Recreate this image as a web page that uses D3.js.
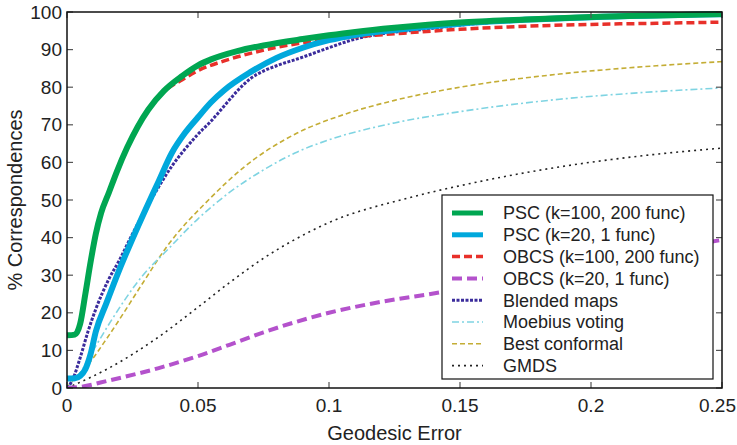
<!DOCTYPE html>
<html>
<head>
<meta charset="utf-8">
<script src="https://cdn.jsdelivr.net/npm/d3@7"></script>
<style>
  body { margin: 0; background: #fff; }
  text { font-family: "Liberation Sans", Arial, sans-serif; fill: #222; }
</style>
</head>
<body>
<div id="chart"></div>
<script>
// series values: [geodesic error, % correspondences]
var pscK100 = [[0,14],[0.003,14.2],[0.005,17],[0.007,25],[0.009,33.5],[0.011,41],[0.013,46.5],[0.016,52],[0.019,57.5],[0.023,64],[0.027,69.5],[0.031,74],[0.037,79],[0.044,83],[0.05,85.8],[0.055,87.4],[0.065,89.6],[0.075,91.1],[0.09,92.8],[0.1,93.8],[0.11,94.7],[0.125,95.8],[0.15,97.2],[0.175,98],[0.2,98.7],[0.225,99.1],[0.25,99.5]]
var pscK20 = [[0,2.5],[0.003,2.6],[0.005,3.2],[0.007,5],[0.009,9],[0.011,15],[0.015,22.5],[0.02,31.5],[0.025,39.7],[0.03,47.5],[0.035,55],[0.04,62.5],[0.045,67.8],[0.05,72],[0.055,76],[0.06,79.2],[0.07,84],[0.08,87.8],[0.09,90.5],[0.1,92.5],[0.11,93.9],[0.125,95.2],[0.15,96.9],[0.2,98.6],[0.25,99.4]]
var obcsK100 = [[0,14],[0.003,14.2],[0.005,17],[0.007,25],[0.009,33.5],[0.011,41],[0.013,46.5],[0.016,52],[0.019,57.5],[0.023,64],[0.027,69.5],[0.031,74],[0.037,78.8],[0.044,82],[0.05,84.4],[0.06,87],[0.07,89],[0.08,90.6],[0.09,91.8],[0.1,92.7],[0.11,93.4],[0.125,94.2],[0.15,95.4],[0.175,96.2],[0.2,96.7],[0.225,97],[0.25,97.3]]
var obcsK20 = [[0,0],[0.005,0.3],[0.016,2],[0.035,5.3],[0.05,8.5],[0.062,11.5],[0.075,14.8],[0.087,17.5],[0.1,20],[0.119,22.8],[0.143,25.5],[0.17,29],[0.2,33],[0.225,36.3],[0.25,39.4]]
var blended = [[0,0],[0.002,2],[0.005,8],[0.008,15],[0.011,21],[0.016,29],[0.02,34],[0.025,41],[0.03,47.5],[0.035,53.5],[0.04,59],[0.045,63.5],[0.05,67.5],[0.055,71],[0.06,75],[0.065,79],[0.07,82.3],[0.075,84.3],[0.08,85.7],[0.09,88],[0.1,90.5],[0.11,92.8],[0.12,94.2],[0.135,95.3],[0.15,96.5],[0.2,98.5],[0.25,99.5]]
var moebius = [[0,0],[0.004,3],[0.01,10],[0.0165,17.5],[0.029,30],[0.038,36.5],[0.05,45],[0.062,52],[0.075,58],[0.087,62.5],[0.1,66],[0.125,70.5],[0.15,73.5],[0.188,76.8],[0.22,78.6],[0.25,79.8]]
var bestConformal = [[0,0],[0.001,1],[0.007,5.3],[0.016,14],[0.029,28],[0.038,37.5],[0.054,50],[0.068,59],[0.087,67.5],[0.106,72.8],[0.125,76.5],[0.15,80],[0.188,83.5],[0.225,85.7],[0.25,86.8]]
var gmds = [[0,0],[0.001,0.3],[0.016,5.3],[0.035,13.6],[0.05,21.5],[0.062,28],[0.075,34.5],[0.087,39.5],[0.1,44],[0.13,50.5],[0.15,53.8],[0.188,58.8],[0.22,61.8],[0.25,63.8]]

var seriesNames = ['PSC (k=100, 200 func)','PSC (k=20, 1 func)','OBCS (k=100, 200 func)','OBCS (k=20, 1 func)','Blended maps','Moebius voting','Best conformal','GMDS']
var xTicks = [0, 0.05, 0.1, 0.15, 0.2, 0.25]
var yTicks = [0,10,20,30,40,50,60,70,80,90,100]

var series = [
  {name: seriesNames[0], values: pscK100, color: '#00a651', width: 6, dash: null},
  {name: seriesNames[1], values: pscK20, color: '#00a8dc', width: 6, dash: null},
  {name: seriesNames[2], values: obcsK100, color: '#e8302a', width: 3.5, dash: '8,4'},
  {name: seriesNames[3], values: obcsK20, color: '#b452cc', width: 4, dash: '10,5'},
  {name: seriesNames[4], values: blended, color: '#3b2c9c', width: 3, dash: '3,1.5'},
  {name: seriesNames[5], values: moebius, color: '#7fd4e2', width: 1.6, dash: '7,3,2,3'},
  {name: seriesNames[6], values: bestConformal, color: '#c4ad35', width: 1.6, dash: '5,3'},
  {name: seriesNames[7], values: gmds, color: '#222', width: 1.6, dash: '2,4'}
]

var W = 737, H = 445
var margin = {top: 12, right: 15, bottom: 57, left: 67}
var width = W - margin.left - margin.right
var height = H - margin.top - margin.bottom

var svg = d3.select('#chart').append('svg')
  .attr('width', W).attr('height', H)
var g = svg.append('g')
  .attr('transform', 'translate(' + margin.left + ',' + margin.top + ')')

var x = d3.scaleLinear().domain([0, 0.25]).range([0, width])
var y = d3.scaleLinear().domain([0, 100]).range([height, 0])

var line = d3.line()
  .curve(d3.curveMonotoneX)
  .x(function(d){ return x(d[0]) })
  .y(function(d){ return y(d[1]) })

// lines, drawn last-to-first so the PSC curves sit on top
g.append('defs').append('clipPath').attr('id', 'clip')
  .append('rect').attr('width', width).attr('height', height + 4).attr('y', -4)

g.append('g').attr('clip-path', 'url(#clip)')
  .selectAll('path')
  .data(series.slice().reverse())
  .enter().append('path')
  .attr('fill', 'none')
  .attr('stroke', function(d){ return d.color })
  .attr('stroke-width', function(d){ return d.width })
  .attr('stroke-dasharray', function(d){ return d.dash })
  .attr('stroke-linejoin', 'round')
  .attr('d', function(d){ return line(d.values) })

// inward ticks on all four sides
var tickLen = 6
var tk = g.append('g').attr('stroke', '#555').attr('stroke-width', 1.2)
xTicks.forEach(function(t){
  tk.append('line').attr('x1', x(t)).attr('x2', x(t)).attr('y1', height).attr('y2', height - tickLen)
  tk.append('line').attr('x1', x(t)).attr('x2', x(t)).attr('y1', 0).attr('y2', tickLen)
})
yTicks.forEach(function(t){
  tk.append('line').attr('x1', 0).attr('x2', tickLen).attr('y1', y(t)).attr('y2', y(t))
  tk.append('line').attr('x1', width).attr('x2', width - tickLen).attr('y1', y(t)).attr('y2', y(t))
})

g.append('rect')
  .attr('width', width).attr('height', height)
  .attr('fill', 'none').attr('stroke', '#111').attr('stroke-width', 1.5)

// tick labels (last one pulled in so it stays on the page)
g.selectAll('.xl').data(xTicks).enter().append('text')
  .attr('class', 'xl')
  .attr('x', function(d, i){ return i === xTicks.length - 1 ? W - margin.left - 1 : x(d) })
  .attr('y', height + 24)
  .attr('text-anchor', function(d, i){ return i === xTicks.length - 1 ? 'end' : 'middle' })
  .style('font-size', '19px')
  .text(function(d){ return d })

g.selectAll('.yl').data(yTicks).enter().append('text')
  .attr('class', 'yl')
  .attr('x', -5)
  .attr('y', function(d){ return y(d) })
  .attr('dy', '0.35em')
  .attr('text-anchor', 'end')
  .style('font-size', '19px')
  .text(function(d){ return d })

// axis titles
svg.append('text')
  .attr('x', margin.left + width / 2)
  .attr('y', 440)
  .attr('text-anchor', 'middle')
  .style('font-size', '20px')
  .text('Geodesic Error')

svg.append('text')
  .attr('transform', 'translate(22,' + (margin.top + height / 2) + ') rotate(-90)')
  .attr('text-anchor', 'middle')
  .style('font-size', '20px')
  .text('% Correspondences')

// legend
var lg = svg.append('g').attr('transform', 'translate(442,195)')
lg.append('rect')
  .attr('width', 271).attr('height', 184)
  .attr('fill', '#fff').attr('stroke', '#111').attr('stroke-width', 1.2)

var item = lg.selectAll('.item').data(series).enter().append('g')
  .attr('class', 'item')
  .attr('transform', function(d, i){ return 'translate(0,' + (18 + i * 21.8) + ')' })

item.append('line')
  .attr('x1', 10).attr('x2', 41)
  .attr('stroke', function(d){ return d.color })
  .attr('stroke-width', function(d){ return Math.min(d.width, 5) })
  .attr('stroke-dasharray', function(d){ return d.dash })

item.append('text')
  .attr('x', 61)
  .attr('dy', '0.35em')
  .style('font-size', '18px')
  .text(function(d){ return d.name })
</script>
</body>
</html>
